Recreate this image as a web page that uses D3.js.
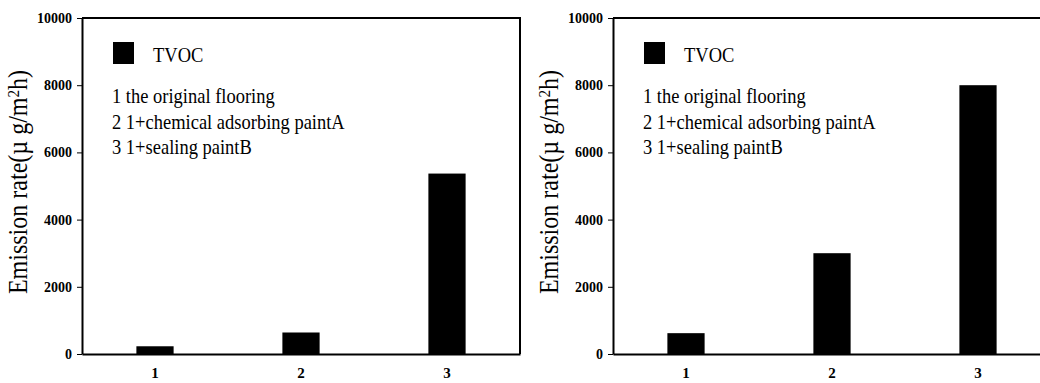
<!DOCTYPE html>
<html lang="en">
<head>
  <meta charset="UTF-8"/>
  <title>TVOC emission rate</title>
  <script src="https://cdn.jsdelivr.net/npm/d3@7"></script>
  <style>
    body { margin: 0; background: #fff; }
    svg, svg text { font-family: 'Liberation Serif', 'Times New Roman', serif; }
    .tick text { font-weight: bold; fill: #000; }
  </style>
</head>
<body>
<svg width="1040" height="383"></svg>
<script>
  const categories = ['1', '2', '3'];
  const leftValues = [230, 640, 5370];
  const rightValues = [620, 3000, 8000];
  const yTicks = [0, 2000, 4000, 6000, 8000, 10000];
  const seriesName = 'TVOC';
  const legendLines = [
    '1 the original flooring',
    '2 1+chemical adsorbing paintA',
    '3 1+sealing paintB'
  ];

  const svg = d3.select('svg');
  const width = 438;
  const height = 336;
  const marginTop = 18;
  const serif = "'Liberation Serif', 'Times New Roman', serif";

  function drawPanel(left, values) {
    const chart = svg.append('g')
      .attr('transform', `translate(${left}, ${marginTop})`);

    const xScale = d3.scaleBand()
      .domain(categories)
      .range([0, width])
      .paddingInner(0.745)
      .paddingOuter(0.3725);

    const yScale = d3.scaleLinear()
      .domain([0, 10000])
      .range([height, 0]);

    // bars
    chart.selectAll('rect.bar')
      .data(values)
      .enter()
      .append('rect')
      .attr('class', 'bar')
      .attr('x', (d, i) => xScale(categories[i]))
      .attr('y', (d) => yScale(d))
      .attr('width', xScale.bandwidth())
      .attr('height', (d) => yScale(0) - yScale(d))
      .attr('fill', '#000');

    // top and right frame
    chart.append('path')
      .attr('d', `M0,${yScale(10000)}H${xScale.range()[1]}V${yScale(0)}`)
      .attr('fill', 'none')
      .attr('stroke', '#000')
      .attr('stroke-width', 2);

    const yAxis = chart.append('g')
      .call(d3.axisLeft(yScale)
        .tickValues(yTicks)
        .tickSize(5)
        .tickSizeOuter(0)
        .tickPadding(5)
        .tickFormat(d3.format('d')))
      .attr('font-family', serif);
    yAxis.select('.domain').attr('stroke-width', 2);
    yAxis.selectAll('.tick text').style('font-size', '14px');

    const xAxis = chart.append('g')
      .attr('transform', `translate(0, ${height})`)
      .call(d3.axisBottom(xScale).tickSize(0).tickPadding(13))
      .attr('font-family', serif);
    xAxis.select('.domain').attr('stroke-width', 2);
    xAxis.selectAll('.tick text').style('font-size', '15px');

    // legend
    chart.append('rect')
      .attr('x', 31)
      .attr('y', 24)
      .attr('width', 21)
      .attr('height', 22)
      .attr('fill', '#000');

    chart.append('text')
      .attr('transform', 'translate(71, 44) scale(0.86, 1)')
      .attr('font-family', serif)
      .style('font-size', '21.5px')
      .text(seriesName);

    chart.selectAll('text.note')
      .data(legendLines)
      .enter()
      .append('text')
      .attr('class', 'note')
      .attr('transform', (d, i) => `translate(30, ${85 + i * 25.5}) scale(0.86, 1)`)
      .attr('font-family', serif)
      .style('font-size', '21.5px')
      .text((d) => d);

    // y axis title
    const title = svg.append('text')
      .attr('transform', `translate(${left - 55}, ${marginTop + height / 2 - 4}) rotate(-90) scale(0.89, 1)`)
      .attr('text-anchor', 'middle')
      .attr('font-family', serif)
      .style('font-size', '27px');
    title.append('tspan').text('Emission rate(µ g/m');
    title.append('tspan').attr('baseline-shift', 'super').style('font-size', '17px').text('2');
    title.append('tspan').text('h)');
  }

  drawPanel(82, leftValues);
  drawPanel(613, rightValues);
</script>
</body>
</html>
